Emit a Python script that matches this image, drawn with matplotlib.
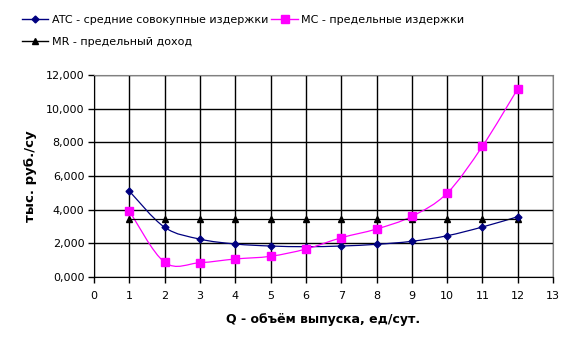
import numpy as np
import matplotlib.pyplot as plt
from matplotlib.path import Path
from matplotlib.patches import PathPatch
from matplotlib.lines import Line2D
from matplotlib.ticker import FuncFormatter

q = [1, 2, 3, 4, 5, 6, 7, 8, 9, 10, 11, 12]
atc = [5.10, 2.95, 2.25, 1.96, 1.84, 1.80, 1.84, 1.94, 2.12, 2.45, 2.97, 3.58]
mc = [3.92, 0.87, 0.85, 1.07, 1.23, 1.66, 2.33, 2.85, 3.60, 4.98, 7.77, 11.18]
mr = [3.45] * 12

lbl_atc = 'ATC - средние совокупные издержки'
lbl_mc = 'MC - предельные издержки'
lbl_mr = 'MR - предельный доход'


def smooth_path(x, y):
    # bezier through the points, like a spreadsheet "smoothed line"
    pts = np.column_stack([x, y]).astype(float)
    n = len(pts)
    verts = [pts[0]]
    codes = [Path.MOVETO]
    for i in range(n - 1):
        p0 = pts[max(i - 1, 0)]
        p1 = pts[i]
        p2 = pts[i + 1]
        p3 = pts[min(i + 2, n - 1)]
        verts += [p1 + (p2 - p0) / 6, p2 - (p3 - p1) / 6, p2]
        codes += [Path.CURVE4] * 3
    return Path(verts, codes)


fig = plt.figure(figsize=(5.79, 3.5), dpi=100)
ax = fig.add_axes([0.1624, 0.2086, 0.7928, 0.5771])

ax.add_patch(PathPatch(smooth_path(q, atc), fill=False, ec='#000080', lw=0.9, zorder=3))
ax.add_patch(PathPatch(smooth_path(q, mc), fill=False, ec='#ff00ff', lw=0.9, zorder=3))
ax.plot(q, mr, color='black', lw=0.9, marker='^', ms=5, zorder=4)
ax.plot(q, atc, ls='none', marker='D', color='#000080', ms=3.5, zorder=5)
ax.plot(q, mc, ls='none', marker='s', color='#ff00ff', ms=6, zorder=5)

ax.set_xlim(0, 13)
ax.set_ylim(0, 12)
ax.set_xticks(range(0, 14))
ax.set_yticks(range(0, 13, 2))
ax.yaxis.set_major_formatter(FuncFormatter(lambda v, p: f'{v:.3f}'.replace('.', ',')))

ax.set_axisbelow(True)
ax.grid(True, color='black', lw=1.0)
for s in ['top', 'right']:
    ax.spines[s].set_color('#808080')
for s in ['left', 'bottom']:
    ax.spines[s].set_color('black')
ax.tick_params(direction='out', length=4, width=1, labelsize=8, pad=3)
ax.tick_params(axis='x', pad=6)

ax.set_ylabel('тыс. руб./су', fontsize=9.5, fontweight='bold', labelpad=6)
ax.set_xlabel('Q - объём выпуска, ед/сут.', fontsize=9, fontweight='bold', labelpad=9)

h_atc = Line2D([], [], color='#000080', lw=1, marker='D', ms=3.5)
h_mc = Line2D([], [], color='#ff00ff', lw=1, marker='s', ms=6)
h_mr = Line2D([], [], color='black', lw=1, marker='^', ms=5)
fig.legend([h_atc, h_mr, h_mc], [lbl_atc, lbl_mr, lbl_mc], ncol=2, frameon=False,
           fontsize=8, loc='upper left', bbox_to_anchor=(0.02, 0.985),
           handlelength=2.4, handletextpad=0.3, columnspacing=0.3, labelspacing=1.05)

plt.savefig('out.png', dpi=100)
